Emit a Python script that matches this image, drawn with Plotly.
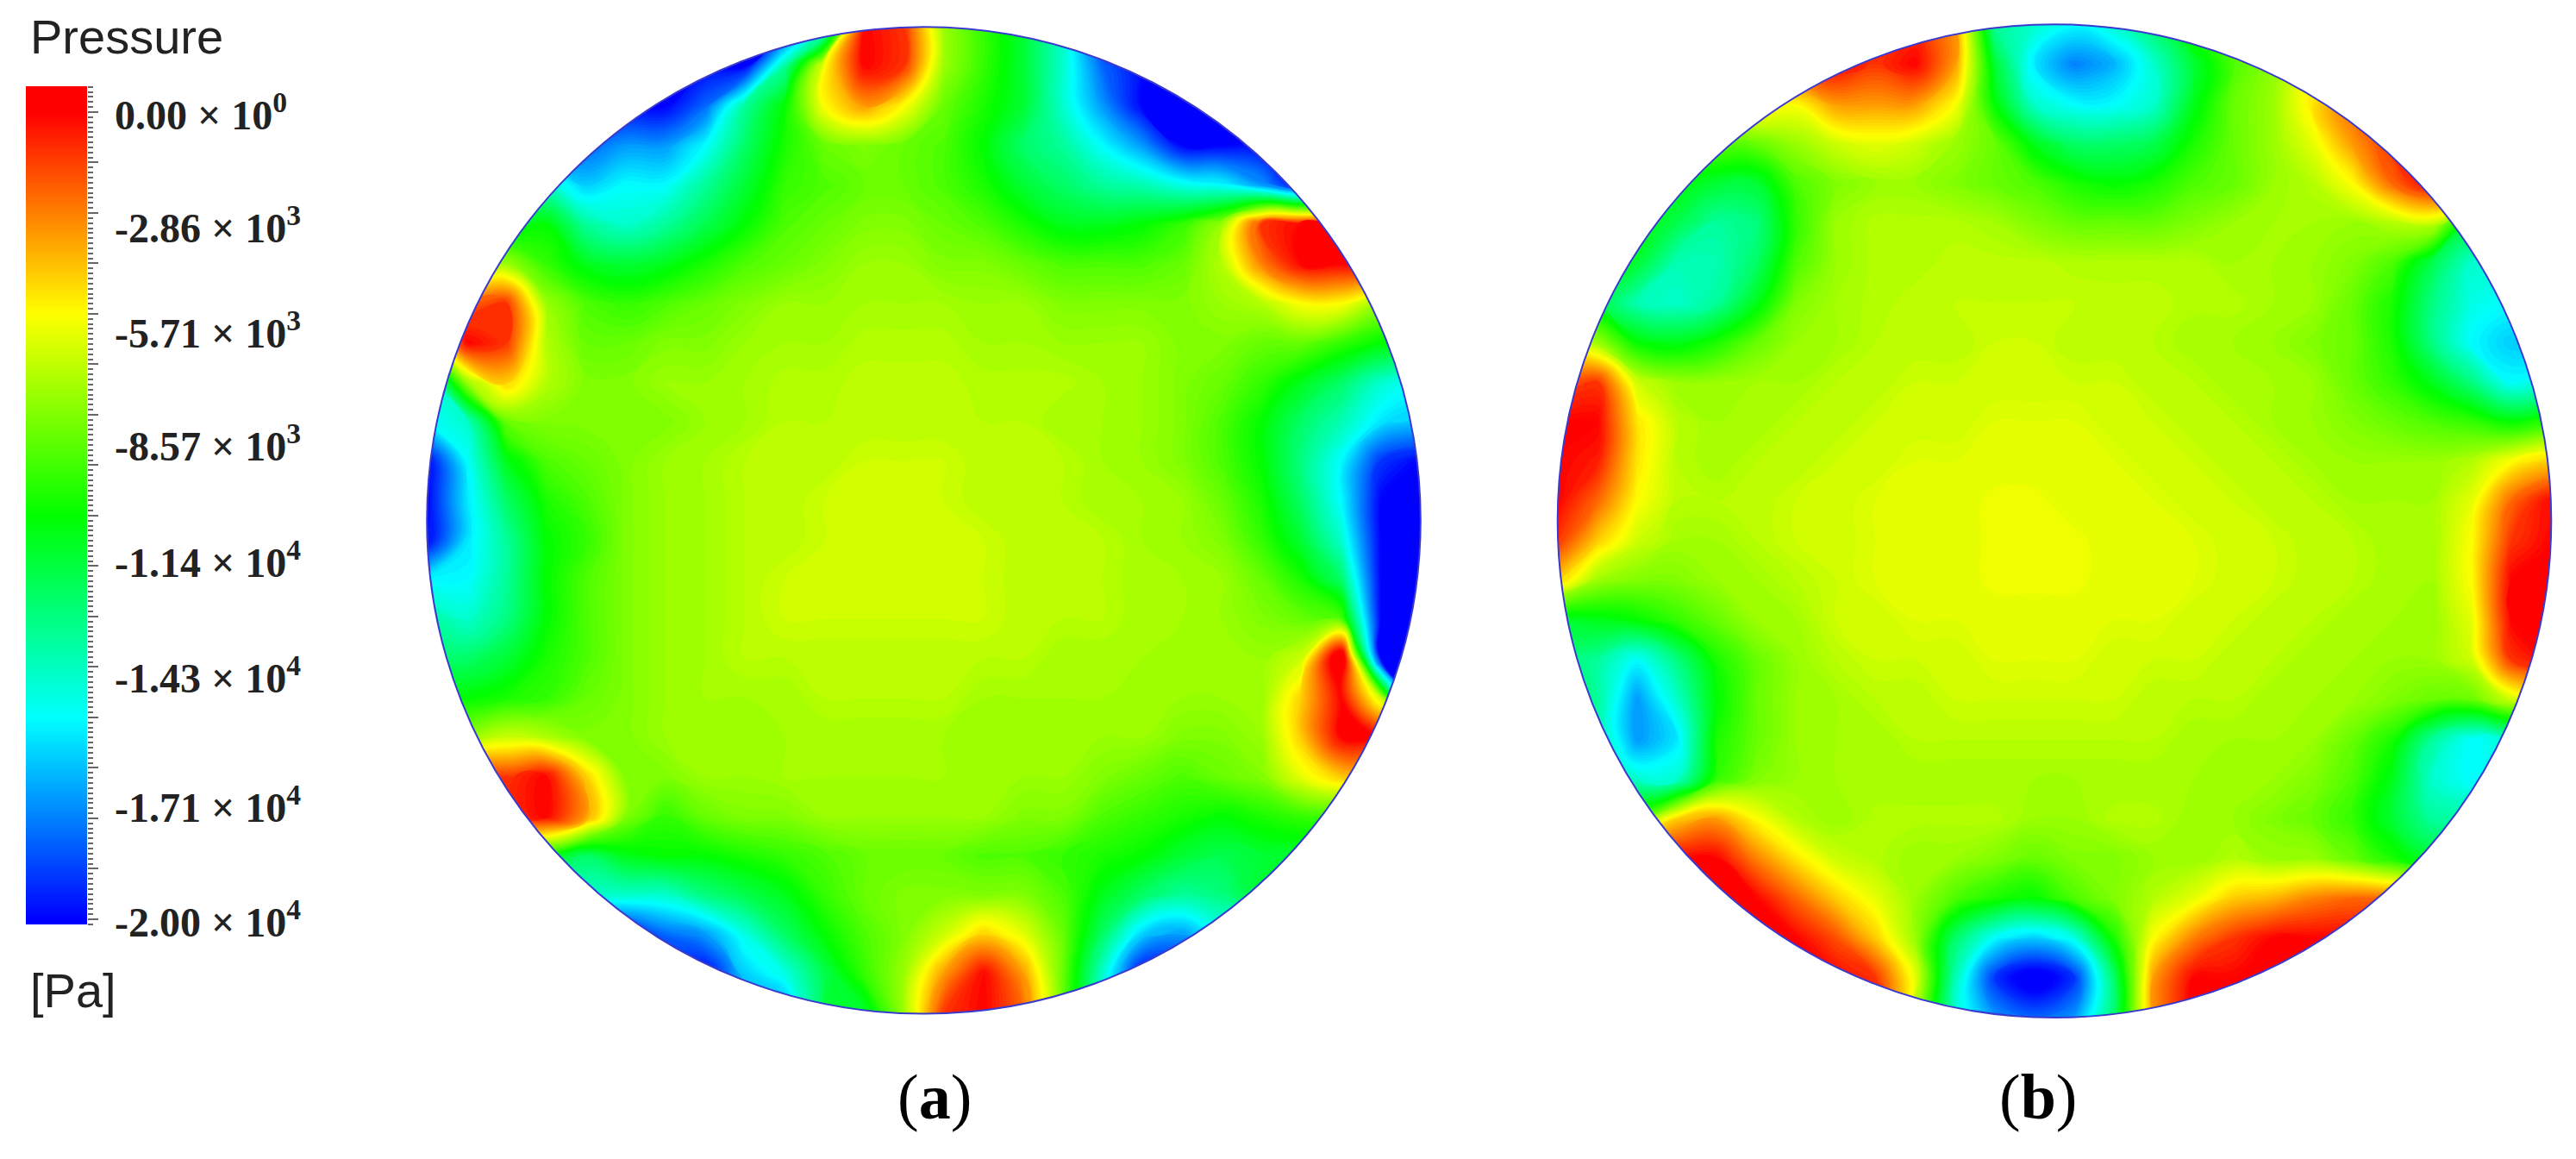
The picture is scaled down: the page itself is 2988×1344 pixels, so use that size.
import numpy as np
import plotly.graph_objects as go

# the page keeps its 8 px body margin, so the figure is drawn 8 px in and everything below is page pixels
PAGE = 8
W, H = 2988 - 2 * PAGE, 1344 - 2 * PAGE

# pressure in kPa on a 26 x 26 grid (top row first)
disc_a = [
    [-20,-20,-20,-20,-20,-20,-20,-20,-20,-20,-15,0,-1,-7,-9,-11,-14,-20,-20,-20,-20,-20,-20,-20,-20,-20],
    [-20,-20,-20,-20,-20,-20,-20,-20,-20,-13,-5,0,-1,-7,-9,-11,-14,-18,-20,-20,-20,-20,-20,-20,-20,-20],
    [-20,-20,-20,-20,-20,-20,-20,-18,-13,-10,-5,-3,-5,-8,-9.5,-11,-14,-17,-20,-20,-20,-20,-20,-20,-20,-20],
    [-18,-18,-18,-18,-18,-17,-17,-15,-12,-9.5,-8,-7.5,-8,-8.5,-10,-12,-13,-15,-17,-20,-20,-20,-20,-20,-20,-20],
    [-14,-14,-14,-14,-16,-15,-15,-13,-11,-9,-8.5,-8,-8,-8.5,-9.5,-11,-12,-13,-13.5,-14.5,-15,-17,-20,-20,-20,-20],
    [-11,-11,-11,-10,-13,-14,-13,-11.5,-10,-8.5,-8,-7.5,-7.5,-8,-8.5,-9.5,-10.5,-10.5,-10,-9,-7,-1,0,0,0,0],
    [-8,-8,-7,-9,-10.5,-11,-10.5,-9.5,-8.5,-8,-7.5,-7,-7,-7.5,-7.5,-8,-8.5,-8.5,-8.5,-8,-6.5,-2.5,0,0,0,0],
    [-3,-2,-1,-7,-8.5,-9,-8.5,-8,-7.5,-7,-7,-6.8,-6.8,-6.8,-7,-7,-7.5,-7.5,-7.5,-7.5,-7,-6.5,-5,-5,-7,-8],
    [-8,0,-1,-6.5,-8,-8,-7.5,-7.5,-7,-6.8,-6.8,-6.5,-6.5,-6.5,-6.8,-6.8,-7,-7,-7,-7.5,-7.5,-8,-8,-9,-10,-10],
    [-15,-7,-4,-6.5,-7.5,-7.5,-7,-7,-6.8,-6.5,-6.5,-6.3,-6.3,-6.3,-6.5,-6.5,-6.5,-6.8,-7,-7.5,-8,-9,-10.5,-12,-14,-15],
    [-15,-14,-8,-7.5,-7.5,-7.5,-7.5,-7,-6.8,-6.4,-6.4,-6.4,-6.4,-6.4,-6.4,-6.4,-6.8,-6.8,-7,-7.5,-8.5,-10,-12,-13.5,-15.5,-16],
    [-20,-15,-10.5,-8.5,-8,-7.5,-7,-6.8,-6.4,-6.4,-6.4,-6,-6,-6,-6.4,-6.4,-6.4,-6.8,-7,-7.5,-8.5,-10,-12.5,-15,-19,-20],
    [-20,-15.5,-12,-9.5,-8.5,-7.5,-7,-6.8,-6.4,-6.4,-6,-6,-6,-6,-6.4,-6.4,-6.4,-6.8,-6.8,-7,-8,-9.5,-12,-15,-20,-20],
    [-20,-15.5,-13,-10,-9,-7.5,-7,-6.8,-6.4,-6.4,-6,-6,-6,-6,-6,-6.4,-6.4,-6.4,-6.8,-7,-7.5,-9,-11,-14,-20,-20],
    [-15,-15,-13,-10,-8.5,-7.5,-7,-6.8,-6.4,-6,-6,-6,-6,-6,-6,-6.4,-6.4,-6.4,-6.8,-6.8,-7,-8,-9.5,-12,-20,-20],
    [-13,-14,-12.5,-10,-8.5,-7.5,-7,-6.8,-6.4,-6,-6,-6,-6,-6,-6,-6.4,-6.4,-6.4,-6.8,-6.8,-7,-7.5,-8,-8.5,-20,-20],
    [-12,-12,-11,-9.5,-8.5,-7.5,-7,-6.8,-6.4,-6.4,-6.4,-6.4,-6.4,-6.4,-6.4,-6.4,-6.8,-6.8,-6.8,-7,-7,-7,-6,2,-20,-20],
    [-10,-10,-9.5,-9,-8,-7.5,-7,-6.8,-6.8,-6.8,-6.4,-6.4,-6.4,-6.4,-6.8,-6.8,-6.8,-6.8,-7,-7,-7,-7,-4,0,-6,-20],
    [-7,-7,-6,-6.5,-7.5,-7.5,-7,-7,-7,-6.8,-6.8,-6.8,-6.8,-6.8,-7,-7,-7,-7,-7,-7.5,-7.5,-7,-4,0,0,0],
    [0,0,-1,0,-4,-7.5,-7.5,-7,-7,-6.8,-6.8,-6.8,-6.8,-6.8,-7,-7,-7,-7.5,-8,-8.5,-8,-7.5,-5.5,-4,-4,-4],
    [-1,-1,-1,0,-3,-7.5,-9,-8,-7.5,-7.5,-7,-7,-7,-7,-7,-7.5,-7.5,-8.5,-9,-9.5,-10,-9.5,-9,-9,-9,-9],
    [-10,-10,-10,-10,-12,-10.5,-10,-10,-9.5,-9,-8.5,-8,-8,-8,-8.5,-8.5,-9,-9.5,-10,-11,-11.5,-11,-11,-11,-11,-11],
    [-14,-14,-14,-14,-14,-14,-14,-12.5,-11.5,-10.5,-9,-8,-7.5,-7.5,-7.5,-7.5,-8.5,-10.5,-12,-13,-12.5,-11,-11,-11,-11,-11],
    [-20,-20,-20,-20,-20,-20,-18,-17,-14.5,-12,-10,-8.5,-7.5,-6,-4,-5.5,-8,-12,-16,-17,-15,-15,-15,-15,-15,-15],
    [-20,-20,-20,-20,-20,-20,-20,-20,-16,-14.5,-11.5,-9,-7,-3,0,-3,-8,-14,-20,-20,-20,-20,-20,-20,-20,-20],
    [-17,-17,-17,-17,-17,-17,-17,-17,-17,-17,-11,-11,-7,-1,0,-2,-8,-14,-20,-20,-20,-20,-20,-20,-20,-20],
]

disc_b = [
    [-1,-1,-1,-1,-1,-1,-1,-1,-1,-1,-3,-13,-14,-15,-14,-12,-9,-6,-6,-6,-6,-6,-6,-6,-6,-6],
    [0,0,0,0,0,0,0,0,-1,0,-3,-11,-15.5,-17.5,-16.5,-14,-11,-8.5,-7,-5,-5,-5,-5,-5,-5,-5],
    [-4,-4,-4,-4,-4,-4,-5,-3,-3,-3,-5,-10,-14,-15,-15,-14,-10.5,-8,-7,-4.5,-2,-2,-2,-2,-2,-2],
    [-7,-7,-7,-7,-8,-8,-7,-6,-5.5,-6,-7,-8,-10.5,-12,-12,-11.5,-9.5,-8,-7,-5.5,-3,-1,0,0,0,0],
    [-10,-10,-10,-10,-11,-11,-8.5,-7.5,-7,-7,-7.5,-8,-8.5,-9.5,-10,-9.5,-8.5,-8,-7,-6.5,-5,-2,0,0,0,0],
    [-10,-10,-10,-11.5,-13,-12.5,-9,-7,-6.5,-6.5,-6.5,-6.8,-7.5,-8,-8,-8,-7.5,-7,-6.8,-6.8,-7,-6.5,-6,-11,-11,-11],
    [-11,-11,-11,-13.5,-13.5,-12,-8.5,-7,-6.5,-6.5,-6.3,-6.3,-6.3,-6.5,-6.5,-6.5,-6.5,-6.8,-6.8,-7,-7.5,-8.5,-11.5,-14,-14,-14],
    [-10,-11,-13.5,-14,-13,-10.5,-7.5,-6.8,-6.5,-6.3,-6.2,-6.2,-6.2,-6.2,-6.3,-6.3,-6.5,-6.5,-6.8,-7,-8,-9.5,-12.5,-14.5,-15,-15],
    [-6,-7,-10,-10.5,-9.5,-8,-7,-6.8,-6.4,-6.4,-6.4,-6,-6,-6.4,-6.4,-6.4,-6.8,-6.8,-7,-7.5,-8,-9.5,-12.5,-15,-16,-16],
    [-2,-1,-6,-7,-7,-6.8,-6.8,-6.4,-6.4,-6,-6,-6,-6,-6,-6,-6.4,-6.4,-6.8,-6.8,-7,-8,-9,-10.5,-12.5,-15,-14],
    [0,0,-4.5,-6.4,-6.8,-6.8,-6.4,-6.4,-6,-6,-6,-5.6,-5.6,-5.6,-6,-6,-6.4,-6.4,-6.8,-7,-7.5,-8,-8.5,-9,-10,-9],
    [0,-0.5,-4.5,-6.4,-6.8,-6.4,-6.4,-6,-6,-5.6,-5.6,-5.6,-5.6,-5.6,-5.6,-6,-6,-6.4,-6.4,-6.8,-7,-7,-7,-6.5,-5,-4],
    [0,-2,-5,-6.4,-6.4,-6.4,-6,-6,-5.6,-5.6,-5.6,-5.3,-5.3,-5.6,-5.6,-5.6,-6,-6,-6.4,-6.4,-6.8,-6.8,-6.8,-5.5,-2,0],
    [-1,-4,-6,-6.8,-6.8,-6.4,-6,-6,-5.6,-5.6,-5.6,-5.3,-5.3,-5.3,-5.6,-5.6,-5.6,-6,-6,-6.4,-6.4,-6.8,-6.8,-5,-1,0],
    [-4,-7,-7.5,-7.5,-7,-6.8,-6.4,-6,-5.6,-5.6,-5.6,-5.3,-5.3,-5.3,-5.6,-5.6,-5.6,-6,-6,-6.4,-6.4,-6.8,-6.8,-5,0,0],
    [-11,-10.5,-10,-9,-8,-7,-6.8,-6,-6,-5.6,-5.6,-5.6,-5.6,-5.6,-5.6,-5.6,-6,-6,-6.4,-6.4,-6.8,-6.8,-7,-5.5,0,0],
    [-12,-13,-15,-12.5,-9.5,-8,-7,-6.4,-6,-6,-6,-5.6,-5.6,-5.6,-6,-6,-6,-6.4,-6.4,-6.8,-6.8,-7,-7,-6,-1,0],
    [-12,-13,-17,-14,-10,-8,-7,-6.8,-6.4,-6.4,-6,-6,-6,-6,-6,-6.4,-6.4,-6.4,-6.8,-6.8,-7,-7.5,-8,-8,-6,-6],
    [-13,-13,-17,-15.5,-9.5,-8,-7,-6.8,-6.8,-6.4,-6.4,-6.4,-6.4,-6.4,-6.4,-6.4,-6.8,-6.8,-6.8,-7,-8,-9.5,-13,-15,-14,-14],
    [-12,-12,-14,-14,-9,-7.5,-7,-6.8,-6.8,-6.8,-6.8,-6.8,-6.8,-6.8,-6.8,-6.8,-6.8,-7,-7,-7.5,-8.5,-10.5,-14,-15,-14,-14],
    [-8,-8,-8,-4,-3,-5,-6.5,-7,-6.5,-6.5,-6.5,-6.5,-7,-7,-6.5,-6.5,-7,-7,-7.5,-8,-9,-11,-13,-13,-13,-13],
    [0,0,0,0,0,-2.5,-4.5,-6,-6.5,-7,-7,-7.5,-8,-7.5,-7.5,-7,-7,-6.5,-7,-7,-8,-9.5,-11,-11,-11,-11],
    [0,0,0,0,0,0,-2,-4,-5.5,-7,-8.5,-9.5,-10,-8.5,-7.5,-6.5,-5.5,-4,-3.5,-2.5,-2,-2,-2,-2,-2,-2],
    [0,0,0,0,0,0,0,-1.5,-4,-7,-12,-15,-16,-14.5,-9.5,-5,-2.5,-1,0,0,0,0,0,0,0,0],
    [0,0,0,0,0,0,0,0,-1,-5.5,-13.5,-19,-21,-19,-12,-3,0,0,0,0,0,0,0,0,0,0],
    [0,0,0,0,0,0,0,0,0,-7,-14,-17,-18,-17,-12,-3,0,0,0,0,0,0,0,0,0,0],
]

bar_levels = [2.5, 0, -2.5, -5, -7.5, -10, -12.5, -15, -17.5, -20, -22.5]

tick_labels = [
    "0.00 × 10<sup>0</sup>", "-2.86 × 10<sup>3</sup>", "-5.71 × 10<sup>3</sup>", "-8.57 × 10<sup>3</sup>",
    "-1.14 × 10<sup>4</sup>", "-1.43 × 10<sup>4</sup>", "-1.71 × 10<sup>4</sup>", "-2.00 × 10<sup>4</sup>",
]
# where the labels actually sit beside the bar, in kPa on its scale
label_levels = [0, -2.8, -5.4, -8.2, -11.1, -13.95, -17.15, -20]

rainbow = [[0, "#0000ff"], [0.25, "#00ffff"], [0.5, "#00ff00"], [0.75, "#ffff00"], [1, "#ff0000"]]


def fx(px):
    return (px - PAGE) / W


def fy(px):
    return 1 - (px - PAGE) / H


fig = go.Figure()

circle_t = np.linspace(0, 2 * np.pi, 361)
circle_x = 12.5 + 12.5 * np.cos(circle_t)
circle_y = 12.5 + 12.5 * np.sin(circle_t)
hole = " ".join(f"L{a:.3f},{b:.3f}" for a, b in zip(circle_x, circle_y))
mask_path = f"M-2,-2 L27,-2 L27,27 L-2,27 Z M{circle_x[0]:.3f},{circle_y[0]:.3f} {hole} Z"

for z, xa, ya in [(disc_a, "x", "y"), (disc_b, "x2", "y2")]:
    fig.add_trace(go.Contour(z=z, xaxis=xa, yaxis=ya, zmin=-20, zmax=0, colorscale=rainbow,
                             autocontour=False, contours=dict(start=-20, end=0, size=0.2, coloring="fill"),
                             line=dict(width=0, smoothing=1.3), showscale=False))
    fig.add_shape(type="path", path=mask_path, xref=xa, yref=ya, fillcolor="white",
                  line=dict(width=0), layer="above")
    fig.add_shape(type="circle", x0=0, x1=25, y0=0, y1=25, xref=xa, yref=ya,
                  line=dict(color="#3a3ad0", width=2), layer="above")

fig.add_trace(go.Heatmap(z=[[v, v] for v in bar_levels], y=bar_levels, x=[0, 1], xaxis="x3", yaxis="y3",
                         zmin=-20, zmax=0, colorscale=rainbow, zsmooth="best", showscale=False))


def disc_x(a, b):
    pad = (b - a) / 25 * 0.2
    return dict(domain=[fx(a - pad), fx(b + pad)], range=[-0.2, 25.2], visible=False)


def disc_y(top, bottom):
    pad = (bottom - top) / 25 * 0.2
    return dict(domain=[fy(bottom + pad), fy(top - pad)], range=[25.2, -0.2], visible=False)


fig.update_layout(
    width=W, height=H,
    margin=dict(l=0, r=0, t=0, b=0),
    paper_bgcolor="white", plot_bgcolor="white",
    showlegend=False,
    xaxis=disc_x(495.2, 1647.8),
    yaxis=disc_y(31.3, 1175.6),
    xaxis2=disc_x(1806.7, 2959.3),
    yaxis2=disc_y(28.2, 1180.0),
    xaxis3=dict(domain=[fx(30), fx(101)], range=[0, 1], visible=False),
    yaxis3=dict(
        domain=[fy(1072), fy(100)], range=[-20.13, 0.64], anchor="x3", side="right",
        showgrid=False, zeroline=False, showticklabels=False,
        ticks="outside", ticklen=12, tickwidth=2, tickcolor="#666666",
        tick0=0, dtick=1.25,
        minor=dict(ticks="outside", ticklen=6, tickwidth=2, tickcolor="#666666", tick0=0, dtick=0.125),
    ),
)

sans = dict(family="Liberation Sans", size=56, color="#222222")
serif = dict(family="Liberation Serif", size=48, color="#222222", weight=700)

for label, level in zip(tick_labels, label_levels):
    fig.add_annotation(text=label, xref="paper", yref="y3", x=fx(131), y=level, xanchor="left",
                       yanchor="middle", showarrow=False, font=serif)

fig.add_annotation(text="Pressure", xref="paper", yref="paper", x=fx(33), y=fy(43), xanchor="left",
                   yanchor="middle", showarrow=False, font=sans)
fig.add_annotation(text="[Pa]", xref="paper", yref="paper", x=fx(33), y=fy(1148), xanchor="left",
                   yanchor="middle", showarrow=False, font=sans)

panel = dict(family="Liberation Serif", size=74, color="black")
fig.add_annotation(text="(<b>a</b>)", xref="paper", yref="paper", x=fx(1084), y=fy(1272),
                   xanchor="center", yanchor="middle", showarrow=False, font=panel)
fig.add_annotation(text="(<b>b</b>)", xref="paper", yref="paper", x=fx(2364), y=fy(1272),
                   xanchor="center", yanchor="middle", showarrow=False, font=panel)

fig.write_html("out.html")
